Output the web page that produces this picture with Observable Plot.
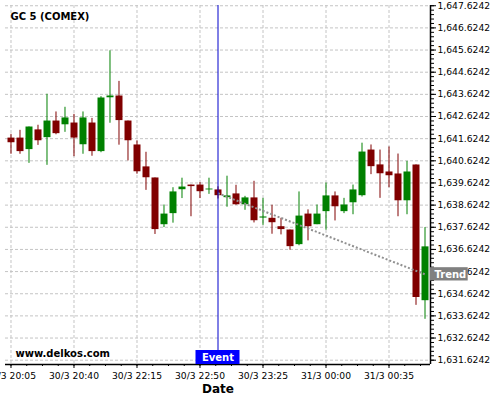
<!DOCTYPE html>
<html><head><meta charset="utf-8">
<script src="https://cdn.jsdelivr.net/npm/d3@7"></script>
<script src="https://cdn.jsdelivr.net/npm/@observablehq/plot@0.6"></script>
<style>body{margin:0;background:#fff;}</style>
</head><body><div id="chart"></div>
<script>
const opens  = [1641.65,1641.65,1641.13,1642.02,1641.67,1642.42,1642.25,1642.33,1641.35,1642.33,1641.04,1643.47,1643.55,1642.42,1641.34,1640.35,1639.85,1637.74,1638.24,1639.32,1639.53,1639.53,1639.31,1639.31,1638.96,1639.13,1638.64,1638.95,1638.04,1638.03,1637.65,1637.50,1636.84,1638.22,1637.74,1638.33,1639.04,1638.33,1638.73,1639.05,1641.11,1640.44,1640.12,1640.03,1638.82,1640.44,1634.31];
const highs  = [1641.82,1642.00,1642.15,1642.23,1643.63,1642.83,1643.04,1642.72,1642.83,1642.54,1643.52,1645.59,1644.21,1642.42,1641.52,1641.01,1639.85,1638.63,1639.41,1639.84,1639.53,1639.64,1639.84,1639.45,1639.93,1639.52,1639.02,1639.70,1638.93,1638.62,1638.03,1637.50,1639.22,1638.41,1638.63,1639.62,1639.22,1638.93,1639.53,1641.42,1641.34,1641.11,1641.25,1640.93,1640.60,1640.44,1637.61];
const lows   = [1640.92,1640.92,1640.51,1641.32,1640.42,1641.80,1641.91,1640.81,1640.92,1640.83,1640.99,1642.32,1641.33,1640.62,1640.02,1639.29,1637.30,1637.61,1637.81,1638.92,1638.10,1638.92,1639.11,1638.90,1638.53,1638.62,1638.39,1637.82,1637.71,1637.31,1637.28,1636.59,1636.79,1637.01,1637.74,1637.49,1637.91,1638.24,1638.19,1638.99,1640.00,1638.93,1639.41,1638.10,1638.19,1634.10,1633.47];
const closes = [1641.44,1641.04,1642.15,1641.53,1642.42,1641.85,1642.56,1641.65,1642.56,1641.04,1643.46,1643.55,1642.44,1641.53,1640.13,1639.86,1637.52,1638.22,1639.22,1639.44,1639.46,1639.23,1639.35,1639.05,1639.04,1638.64,1638.95,1637.92,1638.09,1637.83,1637.52,1636.75,1638.13,1637.65,1638.22,1639.04,1638.55,1638.63,1639.31,1641.02,1640.36,1640.04,1639.95,1638.82,1640.12,1634.45,1636.74];

const xTickIndex  = [0, 7, 14, 21, 28, 35, 42];
const xTickLabels = ["30/3 20:05","30/3 20:40","30/3 22:15","30/3 22:50","30/3 23:25","31/3 00:00","31/3 00:35"];
const yTicks = [1631.6242,1632.6242,1633.6242,1634.6242,1635.6242,1636.6242,1637.6242,1638.6242,1639.6242,1640.6242,1641.6242,1642.6242,1643.6242,1644.6242,1645.6242,1646.6242,1647.6242];

const eventIndex = 23;
const eventLabel = "Event";
const trendIndex = [23, 46];
const trendValues = [1639.16, 1635.50];
const trendLabel = "Trend";
const title = "GC 5 (COMEX)";
const watermark = "www.delkos.com";
const xTitle = "Date";

const GREEN = "#008000", RED = "#800000";
const xDomain = [-0.611, 46.611];
const yDomain = [1631.43, 1647.635];
const W = 500, H = 400, mL = 5, mR = 70, mT = 5, mB = 36;
const pxX = (W - mL - mR) / (xDomain[1] - xDomain[0]);
const pxY = (H - mT - mB) / (yDomain[1] - yDomain[0]);

const candles = opens.map((o, i) => ({i, o, h: highs[i], l: lows[i], c: closes[i], col: closes[i] >= o ? GREEN : RED}));
const trend = trendIndex.map((x, k) => ({x, y: trendValues[k]}));
const yMinor = d3.range(0, 81).map(k => 1631.6242 + k * 0.2).filter(v => v >= yDomain[0] && v <= yTicks[yTicks.length-1] + 1e-6);
const xMinor = d3.range(0, 47, 1.75);

const plot = Plot.plot({
  width: W, height: H,
  marginLeft: mL, marginRight: mR, marginTop: mT, marginBottom: mB,
  style: {fontFamily: "DejaVu Sans", fontSize: "9.2px", background: "white", color: "black"},
  x: {domain: xDomain, type: "linear"},
  y: {domain: yDomain, type: "linear"},
  color: {type: "identity"},
  marks: [
    Plot.gridY(yTicks, {stroke: "#c4c4c4", strokeOpacity: 1, strokeDasharray: "3,2"}),
    Plot.gridX(xTickIndex, {stroke: "#c4c4c4", strokeOpacity: 1, strokeDasharray: "3,2"}),
    Plot.ruleX(candles, {x: "i", y1: "l", y2: "h", stroke: "col", strokeWidth: 1}),
    Plot.ruleX(candles, {x: "i", y1: "o", y2: "c", stroke: "col", strokeWidth: 7}),
    Plot.line(trend, {x: "x", y: "y", stroke: "#909090", strokeWidth: 2, strokeDasharray: "2,2", strokeLinecap: "butt"}),
    Plot.ruleX([eventIndex], {stroke: "#0000cc", strokeWidth: 1}),
    Plot.ruleY([yDomain[0]], {stroke: "black", strokeWidth: 1.5}),
    Plot.ruleX([xDomain[1]], {stroke: "black", strokeWidth: 1.5}),
    Plot.axisY(yTicks, {anchor: "right", tickSize: 5, tickPadding: 2, tickFormat: d3.format(",.4f"), label: null, fontSize: 9.2}),
    Plot.axisY(yMinor, {anchor: "right", tickSize: 3, tickFormat: () => "", label: null}),
    Plot.axisX(xTickIndex, {anchor: "bottom", tickSize: 4, tickPadding: 4, tickFormat: d => xTickLabels[xTickIndex.indexOf(d)], label: null, fontSize: 9.2}),
    Plot.axisX(xMinor, {anchor: "bottom", tickSize: 2, tickFormat: () => "", label: null}),
    Plot.rect([eventIndex], {x1: d => d - 22 / pxX, x2: d => d + 22 / pxX, y1: () => yDomain[0], y2: () => yDomain[0] + 14 / pxY, fill: "#0000ff"}),
    Plot.text([eventLabel], {x: () => eventIndex, y: () => yDomain[0] + 7 / pxY, text: d => d, fill: "white", fontWeight: "bold", fontSize: 10, lineAnchor: "middle"}),
    Plot.rect([trendValues[1]], {x1: () => xDomain[1], x2: () => xDomain[1] + 37.7 / pxX, y1: d => d - 6.65 / pxY, y2: d => d + 6.65 / pxY, fill: "#808080"}),
    Plot.text([trendLabel], {x: () => xDomain[1], y: () => trendValues[1], dx: 4, text: d => d, textAnchor: "start", fill: "white", fontWeight: "bold", fontSize: 10, lineAnchor: "middle"}),
    Plot.text([title], {frameAnchor: "top-left", dx: 5, dy: 7, text: d => d, textAnchor: "start", lineAnchor: "top", fontWeight: "bold", fontSize: 10}),
    Plot.text([watermark], {frameAnchor: "bottom-left", dx: 10, dy: -10.5, text: d => d, textAnchor: "start", lineAnchor: "middle", fontWeight: "bold", fontSize: 10}),
    Plot.text([xTitle], {frameAnchor: "bottom", dy: 20, text: d => d, lineAnchor: "top", fontWeight: "bold", fontSize: 12})
  ]
});
document.getElementById("chart").appendChild(plot);
</script>
</body></html>
